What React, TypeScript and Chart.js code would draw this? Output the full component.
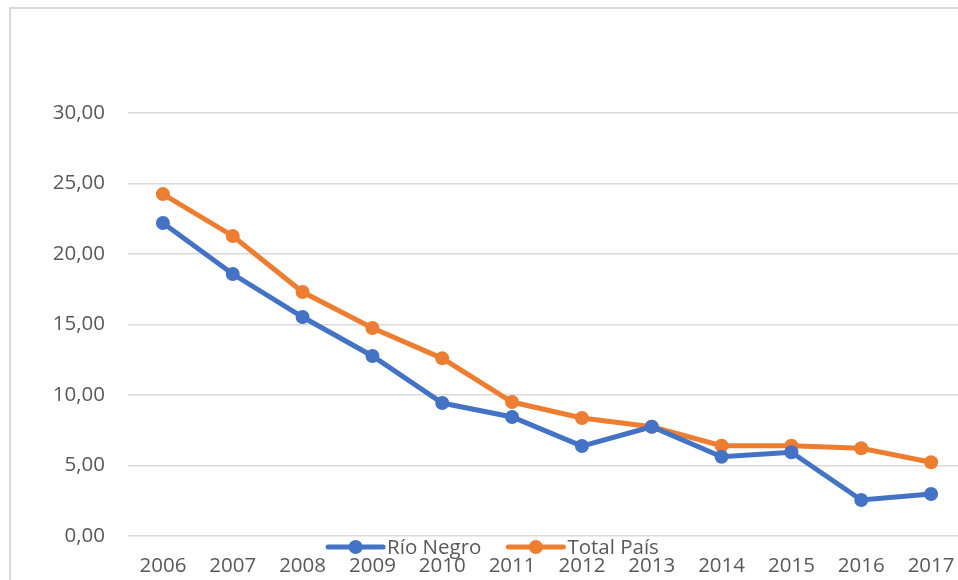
import React, { useEffect, useRef } from "react";
import { Chart, registerables } from "chart.js";

Chart.register(...registerables);

const years = ["2006", "2007", "2008", "2009", "2010", "2011", "2012", "2013", "2014", "2015", "2016", "2017"];
const rioNegro = [22.2, 18.58, 15.53, 12.77, 9.43, 8.44, 6.38, 7.75, 5.62, 5.94, 2.55, 2.98];
const totalPais = [24.25, 21.28, 17.3, 14.75, 12.6, 9.5, 8.37, 7.75, 6.4, 6.4, 6.22, 5.23];
const seriesNames = ["Río Negro", "Total País"];
const seriesColors = ["#4472C4", "#ED7D31"];
const yTickValues = [0, 5, 10, 15, 20, 25, 30];

const FONT = "'Open Sans', sans-serif";
const FSIZE = 20.5;

const legendPlugin = {
  id: "customLegend",
  afterDraw(chart: any) {
    const ctx = chart.ctx;
    ctx.save();
    ctx.font = `${FSIZE}px ${FONT}`;
    ctx.textBaseline = "middle";
    const y = 547;
    const lineLen = 55;
    const gap = 4;
    const itemGap = 27;
    const items = chart.data.datasets.map((d: any) => ({
      label: d.label,
      color: d.borderColor,
      w: lineLen + gap + ctx.measureText(d.label).width,
    }));
    const total = items.reduce((s: number, it: any) => s + it.w, 0) + itemGap * (items.length - 1);
    let x = 493.5 - total / 2;
    for (const it of items) {
      ctx.strokeStyle = it.color;
      ctx.lineWidth = 5;
      ctx.lineCap = "round";
      ctx.beginPath();
      ctx.moveTo(x, y);
      ctx.lineTo(x + lineLen, y);
      ctx.stroke();
      ctx.fillStyle = it.color;
      ctx.beginPath();
      ctx.arc(x + lineLen / 2, y, 7, 0, Math.PI * 2);
      ctx.fill();
      ctx.fillStyle = "#595959";
      ctx.textAlign = "left";
      ctx.fillText(it.label, x + lineLen + gap, y + 1);
      x += it.w + itemGap;
    }
    ctx.restore();
  },
};

export default function App() {
  const ref = useRef<HTMLCanvasElement>(null);
  useEffect(() => {
    if (!ref.current) return;
    const chart = new Chart(ref.current, {
      type: "line",
      data: {
        labels: years,
        datasets: [
          {
            label: seriesNames[0],
            data: rioNegro,
            borderColor: seriesColors[0],
            backgroundColor: seriesColors[0],
            borderWidth: 5,
            pointRadius: 7,
            pointHoverRadius: 7,
            pointBorderWidth: 0,
            tension: 0,
          },
          {
            label: seriesNames[1],
            data: totalPais,
            borderColor: seriesColors[1],
            backgroundColor: seriesColors[1],
            borderWidth: 5,
            pointRadius: 7,
            pointHoverRadius: 7,
            pointBorderWidth: 0,
            tension: 0,
          },
        ],
      },
      options: {
        animation: false,
        responsive: false,
        maintainAspectRatio: false,
        layout: { padding: { top: 113, right: 0, bottom: 0, left: 0 } },
        plugins: { legend: { display: false }, tooltip: { enabled: false } },
        scales: {
          x: {
            offset: true,
            grid: { display: false, drawTicks: false },
            border: { display: false },
            ticks: { color: "#595959", font: { family: FONT, size: FSIZE }, padding: 18, maxRotation: 0, autoSkip: false },
            afterFit: (s: any) => { s.height = 44; },
          },
          y: {
            min: 0,
            max: 30,
            afterBuildTicks: (s: any) => { s.ticks = yTickValues.map((v) => ({ value: v })); },
            grid: { color: "#D9D9D9", lineWidth: 1.5, drawTicks: false },
            border: { display: false },
            ticks: {
              color: "#595959",
              font: { family: FONT, size: FSIZE },
              padding: 23,
              callback: (v: any) => Number(v).toFixed(2).replace(".", ","),
            },
            afterFit: (s: any) => { s.width = 128; },
          },
        },
      },
      plugins: [legendPlugin],
    });
    return () => chart.destroy();
  }, []);
  return (
    <div style={{ position: "fixed", left: 0, top: 0, width: 958, height: 580, overflow: "hidden", background: "#fff" }}>
      <canvas ref={ref} width={973} height={580} style={{ position: "absolute", left: 0, top: 0, width: 973, height: 580 }} />
      <div style={{ position: "absolute", left: 9, top: 7, width: 1000, height: 1000, borderLeft: "2px solid #D9D9D9", borderTop: "2px solid #D9D9D9", pointerEvents: "none" }} />
    </div>
  );
}
